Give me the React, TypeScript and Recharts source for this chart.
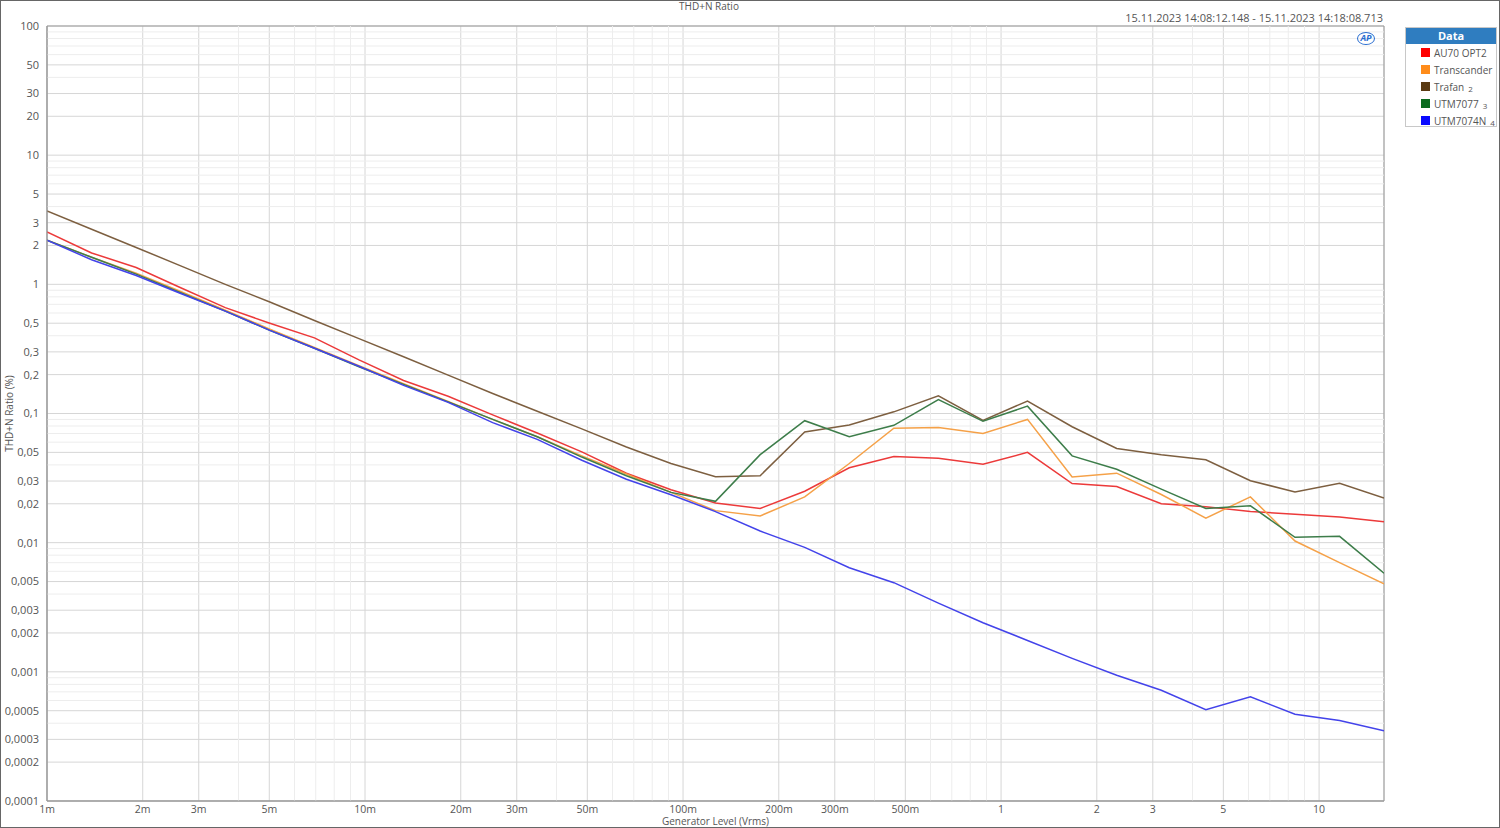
import React from 'react';
import {
  LineChart,
  Line,
  XAxis,
  YAxis,
  CartesianGrid,
  ReferenceLine,
  ReferenceArea,
} from 'recharts';

// generator level (Vrms), log spaced sweep
const LEVELS = [
  0.001, 0.001381, 0.001907, 0.002633, 0.003636, 0.00502, 0.006932, 0.009573, 0.01322, 0.01825,
  0.0252, 0.0348, 0.04805, 0.06636, 0.09165, 0.1265, 0.1748, 0.2413, 0.3332, 0.4601, 0.6353,
  0.8774, 1.211, 1.673, 2.31, 3.19, 4.405, 6.083, 8.4, 11.6, 16.0,
];

// THD+N (%)
const AU70 = [
  2.55, 1.75, 1.35, 0.94, 0.66, 0.5, 0.385, 0.26, 0.18, 0.136, 0.0975, 0.0707, 0.0505, 0.0345,
  0.0257, 0.0203, 0.0184, 0.025, 0.038, 0.0465, 0.045, 0.0405, 0.05, 0.0287, 0.0272, 0.02, 0.019,
  0.0174, 0.0166, 0.0158, 0.0145,
];
const TRANSCANDER = [
  2.2, 1.62, 1.22, 0.88, 0.63, 0.45, 0.325, 0.235, 0.17, 0.124, 0.09, 0.066, 0.047, 0.034, 0.0245,
  0.0177, 0.0161, 0.0226, 0.041, 0.077, 0.078, 0.07, 0.09, 0.0322, 0.0345, 0.0236, 0.0155, 0.0226,
  0.0103, 0.007, 0.0048,
];
const TRAFAN = [
  3.7, 2.67, 1.93, 1.39, 1.0, 0.73, 0.525, 0.38, 0.275, 0.198, 0.143, 0.104, 0.076, 0.055, 0.041,
  0.0324, 0.033, 0.072, 0.0815, 0.103, 0.137, 0.0885, 0.125, 0.079, 0.0536, 0.048, 0.0438, 0.0302,
  0.0247, 0.0288, 0.0222,
];
const UTM7077 = [
  2.2, 1.62, 1.2, 0.86, 0.62, 0.44, 0.32, 0.23, 0.168, 0.123, 0.09, 0.066, 0.046, 0.033, 0.0245,
  0.0209, 0.048, 0.088, 0.066, 0.081, 0.128, 0.087, 0.114, 0.047, 0.037, 0.026, 0.0184, 0.0193,
  0.011, 0.0112, 0.0058,
];
const UTM7074N = [
  2.2, 1.55, 1.17, 0.85, 0.62, 0.44, 0.32, 0.232, 0.165, 0.122, 0.085, 0.063, 0.0435, 0.031,
  0.0235, 0.0174, 0.0123, 0.0092, 0.0064, 0.0049, 0.0034, 0.0024, 0.00175, 0.00127, 0.00094,
  0.00072, 0.00051, 0.00064, 0.00047, 0.00042, 0.00035,
];

const X_TICKS = [
  0.001, 0.002, 0.003, 0.005, 0.01, 0.02, 0.03, 0.05, 0.1, 0.2, 0.3, 0.5, 1, 2, 3, 5, 10,
];
const X_MINOR = [
  0.004, 0.006, 0.007, 0.008, 0.009, 0.04, 0.06, 0.07, 0.08, 0.09, 0.4, 0.6, 0.7, 0.8, 0.9,
  4, 6, 7, 8, 9,
];
const Y_TICKS = [
  0.0001, 0.0002, 0.0003, 0.0005, 0.001, 0.002, 0.003, 0.005, 0.01, 0.02, 0.03, 0.05, 0.1, 0.2,
  0.3, 0.5, 1, 2, 3, 5, 10, 20, 30, 50, 100,
];
const Y_MINOR = [
  0.0004, 0.0006, 0.0007, 0.0008, 0.0009, 0.004, 0.006, 0.007, 0.008, 0.009, 0.04, 0.06, 0.07,
  0.08, 0.09, 0.4, 0.6, 0.7, 0.8, 0.9, 4, 6, 7, 8, 9, 40, 60, 70, 80, 90,
];

const SERIES = [
  { key: 'au70', name: 'AU70 OPT2', num: '', values: AU70, line: '#ec3a3a', swatch: '#ff0000' },
  { key: 'trans', name: 'Transcander', num: '', values: TRANSCANDER, line: '#f5a148', swatch: '#ff8c1a' },
  { key: 'trafan', name: 'Trafan', num: '2', values: TRAFAN, line: '#7d5f40', swatch: '#5a3a12' },
  { key: 'utm77', name: 'UTM7077', num: '3', values: UTM7077, line: '#3d7d4a', swatch: '#0b6b1f' },
  { key: 'utm74', name: 'UTM7074N', num: '4', values: UTM7074N, line: '#4343ea', swatch: '#0a0aff' },
];

const data = LEVELS.map((x, i) => {
  const row: Record<string, number> = { x };
  SERIES.forEach((s) => (row[s.key] = s.values[i]));
  return row;
});

const FONT = '"Open Sans", "Noto Sans", sans-serif';

const fmtX = (v: number) => (v < 1 ? `${Math.round(v * 1000)}m` : `${v}`);
const fmtY = (v: number) => String(v).replace('.', ',');

export default function App() {
  return (
    <div
      style={{
        position: 'absolute',
        left: 0,
        top: 0,
        width: 1500,
        height: 828,
        background: '#fff',
        boxSizing: 'border-box',
        border: '1px solid #666',
        fontFamily: FONT,
        overflow: 'hidden',
      }}
    >
      <div style={{ position: 'absolute', top: 0, left: 0, width: 1416, textAlign: 'center', fontSize: 10, lineHeight: '10px', color: '#555' }}>
        THD+N Ratio
      </div>
      <div style={{ position: 'absolute', top: 9, right: 116, fontSize: 11, color: '#555' }}>
        15.11.2023 14:08:12.148 - 15.11.2023 14:18:08.713
      </div>
      <div style={{ position: 'absolute', top: 31, left: 1356, width: 18, height: 13, borderRadius: '50%', border: '1.5px solid #2a6ed0', boxSizing: 'border-box', color: '#2a6ed0', fontSize: 9, fontWeight: 700, fontStyle: 'italic', lineHeight: '10px', textAlign: 'center', zIndex: 2 }}>
        AP
      </div>

      <div style={{ position: 'absolute', left: -1, top: -1 }}>
        <LineChart width={1500} height={828} data={data} margin={{ top: 26, right: 116, bottom: 0, left: 0 }}>
          <CartesianGrid stroke="#d6d6d6" strokeWidth={1} />
          {X_MINOR.map((v) => (
            <ReferenceLine key={`xm${v}`} x={v} stroke="#ededed" strokeWidth={1} />
          ))}
          {Y_MINOR.map((v) => (
            <ReferenceLine key={`ym${v}`} y={v} stroke="#ededed" strokeWidth={1} />
          ))}
          <XAxis
            dataKey="x"
            type="number"
            scale="log"
            domain={[0.001, 16]}
            ticks={X_TICKS}
            tickFormatter={fmtX}
            allowDataOverflow
            height={27}
            tickLine={false}
            axisLine={{ stroke: '#999' }}
            tick={{ fontSize: 10.5, fill: '#555', fontFamily: FONT, dy: -2 }}
            tickMargin={1}
            interval={0}
            label={{
              content: ({ viewBox }: any) => (
                <text
                  x={viewBox.x + viewBox.width / 2}
                  y={viewBox.y + 20}
                  textAnchor="middle"
                  dominantBaseline="central"
                  fontSize={10}
                  fill="#555"
                  fontFamily={FONT}
                >
                  Generator Level (Vrms)
                </text>
              ),
            }}
          />
          <YAxis
            type="number"
            scale="log"
            domain={[0.0001, 100]}
            ticks={Y_TICKS}
            tickFormatter={fmtY}
            allowDataOverflow
            width={47}
            tickLine={false}
            axisLine={{ stroke: '#999' }}
            tick={{ fontSize: 11, fill: '#555', fontFamily: FONT }}
            tickMargin={2}
            interval={0}
            label={{
              content: ({ viewBox }: any) => {
                const cx = 9;
                const cy = viewBox.y + viewBox.height / 2;
                return (
                  <text
                    x={cx}
                    y={cy}
                    transform={`rotate(-90 ${cx} ${cy})`}
                    textAnchor="middle"
                    dominantBaseline="central"
                    fontSize={10}
                    fill="#555"
                    fontFamily={FONT}
                  >
                    THD+N Ratio (%)
                  </text>
                );
              },
            }}
          />
          <ReferenceArea x1={0.001} x2={16} y1={0.0001} y2={100} fill="none" stroke="#999" strokeWidth={1} />
          {SERIES.map((s) => (
            <Line
              key={s.key}
              dataKey={s.key}
              stroke={s.line}
              strokeWidth={1.5}
              dot={false}
              type="linear"
              isAnimationActive={false}
            />
          ))}
        </LineChart>
      </div>

      <div
        style={{
          position: 'absolute',
          left: 1404,
          top: 26,
          width: 92,
          height: 100,
          border: '1px solid #c8c8c8',
          boxSizing: 'border-box',
          background: '#fff',
        }}
      >
        <div style={{ background: '#2f7dc0', color: '#fff', fontWeight: 700, fontSize: 11, height: 16, lineHeight: '16px', textAlign: 'center' }}>
          Data
        </div>
        {SERIES.map((s) => (
          <div key={s.key} style={{ display: 'flex', alignItems: 'center', height: 17, paddingLeft: 15, fontSize: 10, color: '#555' }}>
            <span style={{ width: 9, height: 9, background: s.swatch, marginRight: 4, flex: 'none' }} />
            <span>{s.name}</span>
            {s.num && <span style={{ fontSize: 8, marginLeft: 4, position: 'relative', top: 2 }}>{s.num}</span>}
          </div>
        ))}
      </div>
    </div>
  );
}
